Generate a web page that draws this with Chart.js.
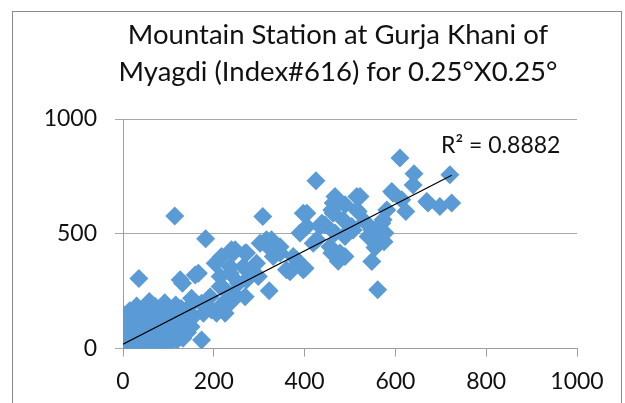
<!DOCTYPE html>
<html>
<head>
<meta charset="utf-8">
<script src="https://cdn.jsdelivr.net/npm/chart.js@4"></script>
<style>
  html, body { margin: 0; padding: 0; background: #fff; }
  #wrap { width: 625px; height: 403px; }
</style>
</head>
<body>
<div id="wrap"><canvas id="scatter-chart" width="625" height="403"></canvas></div>
<script>
// titulo
const titleLines = ['Mountain Station at Gurja Khani of', 'Myagdi (Index#616) for 0.25°X0.25°'];

// datos (observado vs estimado)
const obsX = [
  0, 2, 3, 5, 6, 0, 8, 10, 12, 14, 15, 18, 20, 22, 24, 26, 28, 30, 32, 34,
  36, 38, 40, 42, 44, 46, 48, 50, 52, 54, 56, 58, 60, 62, 64, 66, 68, 70, 72, 74,
  76, 78, 80, 82, 84, 86, 88, 90, 92, 94, 96, 98, 100, 102, 104, 106, 108, 110, 112, 114,
  116, 118, 120, 122, 124, 126, 128, 130, 132, 135, 138, 140, 142, 145, 148, 150, 155,
  35, 114, 126, 131, 159, 166, 151, 173, 195, 173, 182, 203, 217, 214, 192, 177, 206, 228,
  214, 236, 239, 243, 272, 265, 302, 316, 346, 331, 294, 272, 243, 214, 360, 397, 375, 390,
  397, 405, 427, 434, 463, 463, 471, 456, 493, 507, 515, 515, 308, 425, 322, 225, 225, 239,
  269, 254, 298, 236, 272, 247, 269, 320, 327, 346, 383, 368, 401, 419, 445, 405, 467, 460,
  438, 467, 489, 460, 474, 489, 522, 518, 504, 489, 489, 533, 548, 540, 559, 577, 570, 581,
  592, 623, 614, 639, 641, 610, 669, 698, 724, 720, 548, 561, 672, 595, 573, 551, 485, 478,
  575, 555
];
const obsY = [
  5, 30, 60, 95, 140, 150, 15, 45, 80, 110, 165, 5, 35, 65, 130, 95, 15, 185, 50, 80,
  115, 150, 25, 60, 95, 140, 10, 175, 40, 75, 120, 205, 20, 55, 95, 150, 30, 185, 70, 110,
  45, 140, 15, 90, 170, 55, 120, 35, 200, 80, 145, 60, 110, 25, 175, 90, 45, 140, 70, 115,
  190, 35, 95, 150, 60, 120, 175, 80, 45, 130, 100, 160, 70, 120, 185, 95, 140,
  305, 578, 300, 285, 321, 328, 219, 198, 168, 37, 478, 372, 401, 314, 226, 154, 154, 212,
  270, 328, 430, 416, 416, 357, 459, 474, 444, 401, 372, 299, 241, 183, 343, 343, 401, 503,
  590, 532, 474, 532, 634, 590, 401, 444, 503, 517, 662, 604, 575, 731, 252, 256, 154, 205,
  226, 285, 314, 357, 343, 430, 416, 444, 474, 416, 386, 335, 350, 459, 539, 590, 662, 604,
  546, 503, 488, 416, 380, 626, 662, 597, 532, 495, 401, 553, 517, 488, 474, 503, 546, 604,
  684, 597, 648, 713, 761, 830, 641, 619, 634, 757, 379, 256, 634, 677, 561, 503, 561, 416,
  465, 440
];

// linea de tendencia
const trendX = [0, 724];
const trendY = [19, 755];
const rSquaredText = 'R² = 0.8882';
const rLabelPos = [832, 886];

// ejes
const xTicksStep = 200;
const yTicksStep = 500;

const blue = '#5B9BD5';
const axisGray = '#9e9e9e';

let points = obsX.map((x, i) => ({ x: x, y: obsY[i] }));
let trend = trendX.map((x, i) => ({ x: x, y: trendY[i] }));

Chart.defaults.font.family = 'Lato';
Chart.defaults.color = '#111';

// marco, titulo y etiqueta R2
const extras = {
  id: 'extras',
  beforeDraw(chart) {
    const ctx = chart.ctx;
    ctx.save();
    ctx.fillStyle = '#fff';
    ctx.fillRect(0, 0, chart.width, chart.height);
    ctx.strokeStyle = '#8a8a8a';
    ctx.lineWidth = 1;
    ctx.strokeRect(12.5, 11.5, 609, 420);
    ctx.restore();
  },
  afterDraw(chart) {
    const ctx = chart.ctx;
    ctx.save();
    ctx.fillStyle = '#111';
    ctx.textAlign = 'center';
    ctx.textBaseline = 'middle';
    ctx.font = '27.5px Lato';
    ctx.fillText(titleLines[0], 338, 35);
    ctx.fillText(titleLines[1], 338, 72);
    ctx.font = '23px Lato';
    const xs = chart.scales.x, ys = chart.scales.y;
    ctx.fillText(rSquaredText, xs.getPixelForValue(rLabelPos[0]), ys.getPixelForValue(rLabelPos[1]));
    ctx.restore();
  }
};

let ctx1 = document.getElementById('scatter-chart').getContext('2d');
let myChart1 = new Chart(ctx1, {
  type: 'scatter',
  data: {
    datasets: [
      {
        label: 'Tendencia',
        data: trend,
        showLine: true,
        borderColor: '#000',
        borderWidth: 1.2,
        pointRadius: 0,
        fill: false
      },
      {
        label: 'Datos',
        data: points,
        backgroundColor: blue,
        borderWidth: 0,
        pointStyle: 'rectRot',
        pointRadius: 9.5,
        pointHoverRadius: 9.5
      }
    ]
  },
  options: {
    responsive: false,
    devicePixelRatio: 1,
    animation: false,
    layout: { padding: { left: 10, right: 48, top: 119, bottom: 0 } },
    plugins: {
      legend: { display: false },
      title: { display: false },
      tooltip: { enabled: false }
    },
    scales: {
      x: {
        type: 'linear',
        min: 0,
        max: 1000,
        ticks: { stepSize: xTicksStep, padding: 11, font: { size: 23 }, maxRotation: 0,
          callback: function (v) { return String(v); } },
        grid: { drawOnChartArea: false, drawTicks: true, tickLength: 8, color: axisGray },
        border: { display: true, color: axisGray },
        afterFit: function (scale) { scale.height = 54.4; }
      },
      y: {
        type: 'linear',
        min: 0,
        max: 1000,
        ticks: { stepSize: yTicksStep, padding: 18, font: { size: 23 },
          callback: function (v) { return String(v); } },
        grid: { color: '#a8a8a8', tickLength: 8 },
        border: { display: true, color: axisGray },
        afterFit: function (scale) { scale.width = 113; }
      }
    }
  },
  plugins: [extras]
});
</script>
</body>
</html>
